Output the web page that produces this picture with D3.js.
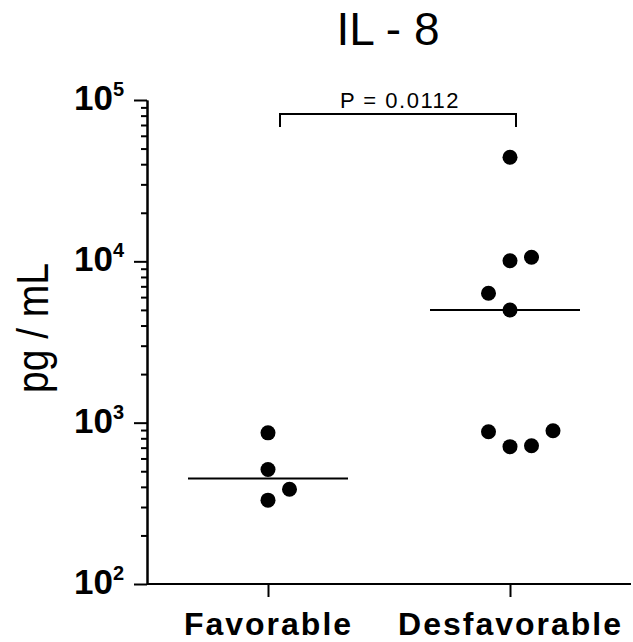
<!DOCTYPE html>
<html><head><meta charset="utf-8">
<script src="https://cdn.jsdelivr.net/npm/d3@7"></script>
<style>body{margin:0;background:#fff}svg{display:block}text{font-family:"Liberation Sans",Arial,sans-serif;fill:#000}</style>
</head><body>
<script>
const categories = ["Favorable", "Desfavorable"];
const favorableValues = [865, 513, 387, 331];
const favorableSlots = [0, 0, 1, 0];
const desfavorableValues = [44150, 10090, 10590, 6340, 4990, 879, 710, 719, 891];
const desfavorableSlots = [0, 0, 1, -1, 0, -1, 0, 1, 2];
const medians = [450, 4990];
const majorTicks = [100, 1000, 10000, 100000];
const tickExponents = ["2", "3", "4", "5"];
const title = "IL - 8";
const yLabel = "pg / mL";
const pLabel = "P = 0.0112";

const W = 633, H = 642;
const svg = d3.select("body").append("svg").attr("width", W).attr("height", H);

const y = d3.scaleLog().domain([100, 100000]).range([584, 100]);
const x = d3.scalePoint().domain(categories).range([147, 631]).padding(0.5);
const slotW = 21.5;

// minor ticks
const minors = [];
[100, 1000, 10000].forEach(d => { for (let k = 2; k <= 9; k++) minors.push(d * k); });

const yMinor = svg.append("g").attr("transform", "translate(147,0)")
  .call(d3.axisLeft(y).tickValues(minors).tickSize(6).tickSizeOuter(0).tickFormat(""));
const yMajor = svg.append("g").attr("transform", "translate(147,0)")
  .call(d3.axisLeft(y).tickValues(majorTicks).tickSize(13).tickSizeOuter(0).tickFormat(""));
[yMinor, yMajor].forEach(g => {
  g.selectAll("path,line").attr("stroke", "#000").attr("stroke-width", 2);
});

// y tick labels
majorTicks.forEach((v, i) => {
  const t = svg.append("text").attr("x", 124).attr("y", y(v) + 10)
    .attr("text-anchor", "end").style("font-weight", "bold");
  t.append("tspan").text("10").style("font-size", "35px");
  t.append("tspan").text(tickExponents[i]).attr("dy", -14).style("font-size", "20px");
});

// x axis
const xa = svg.append("g").attr("transform", "translate(0,584)")
  .call(d3.axisBottom(x).tickSize(13).tickSizeOuter(0));
xa.select(".domain").attr("d", "M147,0H631");
xa.selectAll("path,line").attr("stroke", "#000").attr("stroke-width", 2);
xa.selectAll("text").attr("y", 51).attr("dy", 0)
  .style("font-size", "32px").style("font-weight", "bold").style("letter-spacing", "2px")
  .style("font-family", '"Liberation Sans",Arial,sans-serif').attr("fill", "#000");

// medians
svg.selectAll(".median").data(categories).enter().append("line")
  .attr("x1", d => x(d) - 80).attr("x2", d => Math.min(x(d) + 80, 580))
  .attr("y1", (d, i) => y(medians[i])).attr("y2", (d, i) => y(medians[i]))
  .attr("stroke", "#000").attr("stroke-width", 2);

// dots
const pts = [];
favorableValues.forEach((v, i) => pts.push({c: categories[0], v, s: favorableSlots[i]}));
desfavorableValues.forEach((v, i) => pts.push({c: categories[1], v, s: desfavorableSlots[i]}));
svg.selectAll(".dot").data(pts).enter().append("circle")
  .attr("cx", d => x(d.c) + d.s * slotW).attr("cy", d => y(d.v)).attr("r", 7.5).attr("fill", "#000");

// bracket
const bx1 = x(categories[0]) + 12, bx2 = x(categories[1]) + 6, by = 114;
svg.append("path").attr("d", `M${bx1},${by + 13}V${by}H${bx2}V${by + 13}`)
  .attr("fill", "none").attr("stroke", "#000").attr("stroke-width", 2);
svg.append("text").attr("x", (bx1 + bx2) / 2 + 2).attr("y", 108).attr("text-anchor", "middle")
  .style("font-size", "22px").style("letter-spacing", "1.5px").text(pLabel);

// title
svg.append("text").attr("x", 388).attr("y", 45).attr("text-anchor", "middle")
  .style("font-size", "46px").text(title);

// y label
svg.append("text").attr("transform", "translate(48,328) rotate(-90) scale(1,1.15)")
  .attr("text-anchor", "middle").style("font-size", "39px").text(yLabel);
</script>
</body></html>
